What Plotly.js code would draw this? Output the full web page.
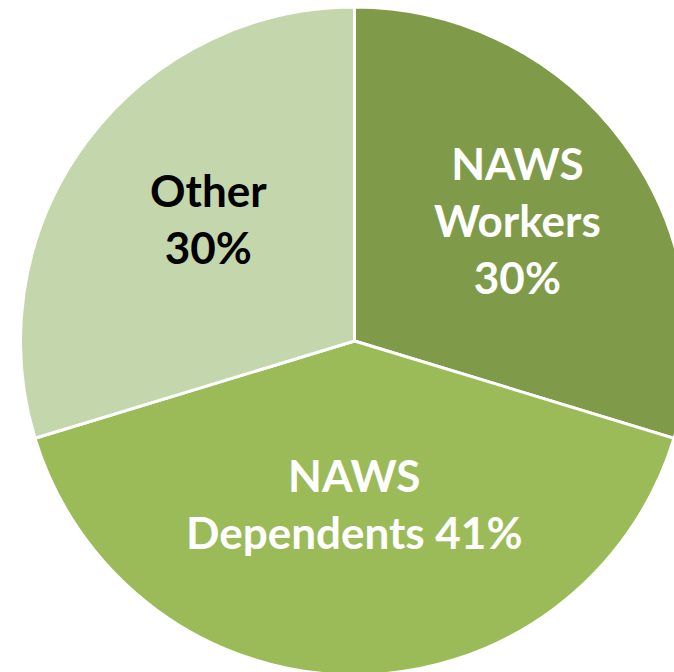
<!DOCTYPE html>
<html>
<head>
<meta charset="utf-8">
<script src="https://cdn.plot.ly/plotly-3.0.1.min.js"></script>
<style>
html,body{margin:0;padding:0;overflow:hidden;background:#fff;width:674px;height:672px;}
#chart{width:700px;height:690px;}
</style>
</head>
<body>
<div id="chart"></div>
<script>
// Data
const categories = ["NAWS Workers", "NAWS Dependents", "Other"];
const values = [29.7, 40.6, 29.7];
const labelLines = [["NAWS", "Workers", "30%"], ["NAWS", "Dependents 41%"], ["Other", "30%"]];
const sliceColors = ["#7f9b4a", "#9bbb59", "#c4d6ab"];
const textColors = ["#ffffff", "#ffffff", "#000000"];

const W = 700, H = 690;
const cx = 354.5, cy = 341, r = 334;

// label anchor positions (pixels)
const labelPos = [[517, 220], [354, 503], [208, 219]];

const trace = {
  type: "pie",
  labels: categories,
  values: values,
  sort: false,
  direction: "clockwise",
  rotation: 0,
  textinfo: "none",
  hoverinfo: "label+percent",
  marker: {colors: sliceColors, line: {color: "#ffffff", width: 3}},
  domain: {x: [(cx - r) / W, (cx + r) / W], y: [1 - (cy + r) / H, 1 - (cy - r) / H]},
  showlegend: false
};

const annotations = categories.map((c, i) => ({
  xref: "paper", yref: "paper",
  x: labelPos[i][0] / W, y: 1 - labelPos[i][1] / H,
  xanchor: "center", yanchor: "middle",
  text: labelLines[i].join("<br>"),
  showarrow: false,
  align: "center",
  font: {family: "Lato, 'Open Sans', sans-serif", size: 44, color: textColors[i], weight: "bold"}
}));

Plotly.newPlot("chart", [trace], {
  width: W, height: H,
  margin: {l: 0, r: 0, t: 0, b: 0},
  paper_bgcolor: "#ffffff",
  annotations: annotations
}, {displayModeBar: false, staticPlot: true});
</script>
</body>
</html>
